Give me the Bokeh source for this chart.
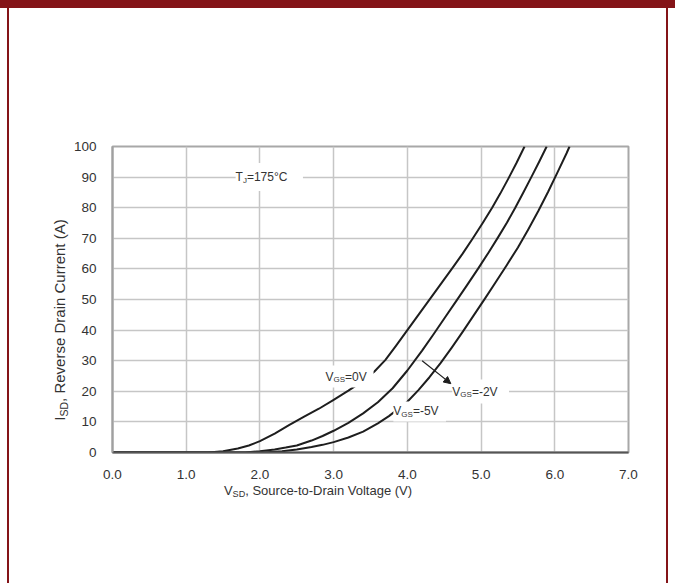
from bokeh.embed import file_html
from bokeh.layouts import column, row
from bokeh.models import (Arrow, Div, FixedTicker, Label, NormalHead,
                          NumeralTickFormatter, Range1d)
from bokeh.plotting import figure
from bokeh.resources import INLINE

# Reverse (body diode) characteristics at Tj = 175 C
vsd_vgs0 = [0.0, 1.0, 1.3, 1.5, 1.7, 1.85, 2.0, 2.2, 2.4, 2.6, 2.8, 3.0, 3.2,
            3.4, 3.55, 3.7, 3.85, 4.0, 4.16, 4.32, 4.47, 4.62, 4.75, 4.88,
            5.02, 5.15, 5.26, 5.37, 5.48, 5.59]
isd_vgs0 = [0, 0, 0, 0.4, 1.3, 2.3, 3.7, 6.2, 9.0, 11.7, 14.3, 17.2, 20.2,
            23.4, 26.4, 30.2, 35.0, 40.0, 45.3, 50.6, 55.6, 60.6, 65.0, 69.7,
            74.9, 80.0, 84.6, 89.5, 94.6, 100]

vsd_vgs2 = [0.0, 1.0, 1.8, 2.0, 2.2, 2.35, 2.5, 2.7, 2.85, 3.0, 3.2, 3.4,
            3.6, 3.8, 4.0, 4.2, 4.36, 4.51, 4.66, 4.81, 4.96, 5.1, 5.23,
            5.35, 5.46, 5.57, 5.68, 5.79, 5.89]
isd_vgs2 = [0, 0, 0, 0.4, 1.0, 1.6, 2.3, 3.9, 5.4, 7.1, 9.7, 12.8,
            16.4, 21.0, 26.8, 33.3, 38.8, 44.1, 49.4, 54.7, 60.1, 65.3, 70.3,
            75.1, 79.8, 84.8, 89.9, 95.1, 100]

vsd_vgs5 = [0.0, 1.0, 2.05, 2.3, 2.5, 2.7, 2.85, 3.0, 3.2, 3.4, 3.6, 3.75,
            3.9, 4.0, 4.15, 4.3, 4.45, 4.6, 4.75, 4.9, 5.05, 5.2, 5.35,
            5.5, 5.64, 5.78, 5.91, 6.04, 6.16, 6.2]
isd_vgs5 = [0, 0, 0, 0.4, 1.0, 1.8, 2.5, 3.4, 4.9, 6.8, 9.5, 11.9,
            14.7, 16.6, 20.4, 24.6, 29.2, 34.2, 39.4, 44.8, 50.2, 55.7, 61.3,
            67.0, 72.9, 79.1, 85.2, 91.7, 97.8, 100]

x_ticks = [0, 1, 2, 3, 4, 5, 6, 7]
y_ticks = [0, 10, 20, 30, 40, 50, 60, 70, 80, 90, 100]

FONT = "Liberation Sans"
TEXT = "#333333"
RED = "#841418"
CURVE = "#1e1e1e"

# Arial / Liberation Sans advance widths (per 1000 em)
WIDTHS = {" ": 278, ",": 278, "-": 333, ".": 278, "=": 584, "(": 333, ")": 333,
          "°": 400, "C": 722, "G": 778, "J": 500, "S": 667, "T": 611, "V": 667}
for d in "0123456789":
    WIDTHS[d] = 556


def text_width(s, size):
    return sum(WIDTHS.get(c, 556) for c in s) / 1000.0 * size


FIG_W = 596
p = figure(width=FIG_W, height=474, x_range=Range1d(0, 7), y_range=Range1d(0, 100),
           output_backend="svg", toolbar_location=None,
           min_border_left=42, min_border_right=38,
           min_border_top=138, min_border_bottom=30, margin=0)

p.background_fill_color = "white"
p.border_fill_color = "white"
p.outline_line_color = "#a8a8a8"
p.outline_line_width = 2

for ax, ticks in ((p.xaxis, x_ticks), (p.yaxis, y_ticks)):
    ax.ticker = FixedTicker(ticks=ticks)
    ax.major_tick_line_color = None
    ax.minor_tick_line_color = None
    ax.major_label_text_font = FONT
    ax.major_label_text_font_size = "13.5px"
    ax.major_label_text_color = TEXT
p.xaxis.formatter = NumeralTickFormatter(format="0.0")
p.xaxis.major_label_standoff = 11
p.yaxis.major_label_standoff = 10
p.xaxis.axis_line_color = "#555555"
p.xaxis.axis_line_width = 2
p.yaxis.axis_line_color = "#a0a0a0"
p.yaxis.axis_line_width = 2

p.xgrid.ticker = FixedTicker(ticks=x_ticks)
p.ygrid.ticker = FixedTicker(ticks=y_ticks)
for g in (p.xgrid, p.ygrid):
    g.grid_line_color = "#c6c6c6"
    g.grid_line_width = 1.5

for xs, ys in ((vsd_vgs0, isd_vgs0), (vsd_vgs2, isd_vgs2), (vsd_vgs5, isd_vgs5)):
    p.line(xs, ys, line_color=CURVE, line_width=2, line_join="round")


def composite(x, y, parts, size, sub_size, pad, sub_drop=3):
    """Draw text made of normal and subscript runs on a white box."""
    total = sum(text_width(t, sub_size if s else size) for t, s in parts)
    n = max(1, round(total / (0.278 * size)))
    p.add_layout(Label(x=x, y=y, text=" " * n,
                       text_font=FONT, text_font_size=f"{size}px",
                       text_baseline="middle", text_align="left",
                       background_fill_color="white", padding=pad))
    offset = 0.0
    for t, is_sub in parts:
        fs = sub_size if is_sub else size
        p.add_layout(Label(x=x, y=y, x_offset=offset,
                           y_offset=-sub_drop if is_sub else 0, text=t,
                           text_font=FONT, text_font_size=f"{fs}px",
                           text_color=TEXT, text_baseline="middle",
                           text_align="left"))
        offset += text_width(t, fs)


# Curve and temperature annotations
composite(1.67, 90, [("T", False), ("J", True), ("=175°C", False)], 12, 8, pad=7)
composite(2.89, 24.8, [("V", False), ("GS", True), ("=0V", False)], 12, 8, pad=4)
composite(4.61, 19.9, [("V", False), ("GS", True), ("=-2V", False)], 12, 8, pad=5)
composite(3.81, 13.4, [("V", False), ("GS", True), ("=-5V", False)], 12, 8, pad=3)

arrow_from = (4.2, 30.0)
arrow_to = (4.59, 22.5)
p.add_layout(Arrow(end=NormalHead(size=7, fill_color=CURVE, line_color=CURVE),
                   x_start=arrow_from[0], y_start=arrow_from[1],
                   x_end=arrow_to[0], y_end=arrow_to[1],
                   line_color=CURVE, line_width=1.2))

# Axis titles (HTML, so the subscripts stay real text)
TITLE_CSS = f"position:absolute;white-space:nowrap;font-family:'{FONT}';color:{TEXT};"
SUB_CSS = "font-size:70%;vertical-align:-0.25em;line-height:0;"

x_title = Div(width=FIG_W, height=101, margin=0, text=(
    f"<div style='position:relative;width:{FIG_W}px;height:101px;'>"
    f"<div style=\"{TITLE_CSS}font-size:13px;left:248px;top:9px;"
    f"transform:translate(-50%,-50%);\">"
    f"V<span style='{SUB_CSS}'>SD</span>, Source-to-Drain Voltage (V)</div></div>"))

y_title = Div(width=61, height=575, margin=0, text=(
    "<div style='position:relative;width:61px;height:575px;'>"
    f"<div style=\"{TITLE_CSS}font-size:15px;left:51px;top:312px;"
    f"transform:translate(-50%,-50%) rotate(-90deg);\">"
    f"I<span style='{SUB_CSS}'>SD</span>, Reverse Drain Current (A)</div></div>"))


def block(w, h, color):
    return Div(width=w, height=h, margin=0, text="",
               styles={"background-color": color})


page = column(
    block(675, 8, RED),
    row(block(7, 575, "white"), block(2, 575, RED), y_title,
        column(p, x_title, spacing=0),
        block(2, 575, RED), block(7, 575, "white"), spacing=0),
    spacing=0,
)

open("out.html", "w").write(file_html(page, INLINE))
